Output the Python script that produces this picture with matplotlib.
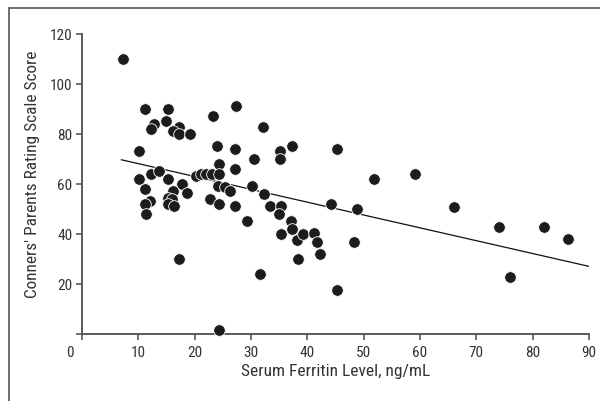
import matplotlib
matplotlib.use("Agg")
import matplotlib.pyplot as plt
from matplotlib.patches import Rectangle

plt.rcParams['font.family'] = ['Roboto Condensed', 'Archivo Narrow', 'DejaVu Sans']

ferritin = [7.2, 11.2, 15.2, 14.9, 12.8, 12.2, 17.2, 16.2, 17.2, 19.2,
            23.2, 27.3, 24.0, 27.2, 24.3, 27.2, 30.5, 10.2, 32.2, 37.2,
            35.2, 35.2, 45.2, 51.9, 59.2, 20.2, 21.1, 22.0, 23.0, 24.3,
            17.8, 18.7, 24.2, 25.4, 26.2, 30.2, 32.3, 22.7, 24.3, 27.1,
            33.3, 35.3, 35.0, 29.3, 44.2, 48.8, 37.1, 37.2, 35.3, 38.2,
            39.2, 41.2, 41.8, 42.3, 38.4, 48.2, 66.1, 74.1, 82.0, 86.3,
            76.0, 45.2, 31.6, 24.4, 17.3, 10.2, 11.2, 12.2, 13.7, 15.2,
            16.1, 12.1, 11.2, 11.4, 15.3, 15.9, 15.3, 16.3]
conners = [110, 90, 90, 85.3, 84.1, 82.1, 82.9, 81.3, 80.1, 80.1,
           87.1, 91, 75, 74, 68, 66, 70, 73.2, 82.9, 75,
           73.2, 70, 73.9, 61.9, 63.9, 63, 64, 64, 64, 64,
           60, 56.2, 59.1, 58.7, 57.2, 58.9, 55.9, 54, 52, 50.9,
           51.1, 51.2, 48, 44.9, 51.8, 49.9, 45, 42, 40, 37.6,
           40, 40.1, 36.8, 31.8, 29.9, 36.7, 50.7, 42.7, 42.7, 37.7,
           22.8, 17.6, 23.9, 1.6, 30, 61.9, 57.9, 64, 65.1, 61.9,
           57.2, 52.9, 51.9, 48, 54.4, 54, 51.9, 50.9]
fit_x = [7, 90]
fit_y = [69.6, 26.9]

x_ticks = [0, 10, 20, 30, 40, 50, 60, 70, 80, 90]
y_ticks = [0, 20, 40, 60, 80, 100, 120]
y_tick_labels = ['', '20', '40', '60', '80', '100', '120']

fig = plt.figure(figsize=(6.0, 4.02), dpi=100)
ax = fig.add_axes([82/600, 1-334.5/402, (589-82)/600, (334.5-35)/402])

axis_col = '#4d4d4d'
text_col = '#333333'

ax.plot(fit_x, fit_y, color='#111111', lw=0.9, zorder=2)
ax.scatter(ferritin, conners, s=70, c='#1c1c1c', edgecolors='white', linewidths=0.6, zorder=3, clip_on=False)

ax.set_xlim(0, 90)
ax.set_ylim(0, 120)
ax.set_xticks(x_ticks)
ax.set_xticklabels([''] + [str(v) for v in x_ticks[1:]])
ax.set_yticks(y_ticks)
ax.set_yticklabels(y_tick_labels)
ax.annotate('0', xy=(0, 0), xycoords='axes fraction', xytext=(-8.5, -8.5),
            textcoords='offset points', ha='center', va='top', fontsize=11, color=text_col)

for s in ['top', 'right']:
    ax.spines[s].set_visible(False)
for s in ['left', 'bottom']:
    ax.spines[s].set_color(axis_col)
    ax.spines[s].set_linewidth(1.3)
ax.tick_params(axis='both', direction='out', length=4, width=1.1, color=axis_col,
               labelsize=11, labelcolor=text_col)
ax.tick_params(axis='x', pad=4.5)
ax.tick_params(axis='y', pad=3)

ax.set_xlabel('Serum Ferritin Level, ng/mL', fontsize=12.5, color=text_col, labelpad=3)
ax.set_ylabel("Conners' Parents Rating Scale Score", fontsize=12.4, color=text_col)
ax.yaxis.set_label_coords(-0.083, 0.534)

fig.add_artist(Rectangle((8.5/600, -0.2), 1.5, 1.2 - 9/402, transform=fig.transFigure,
                         fill=False, edgecolor='#555555', lw=1.2))

fig.savefig('out.png', dpi=100)
